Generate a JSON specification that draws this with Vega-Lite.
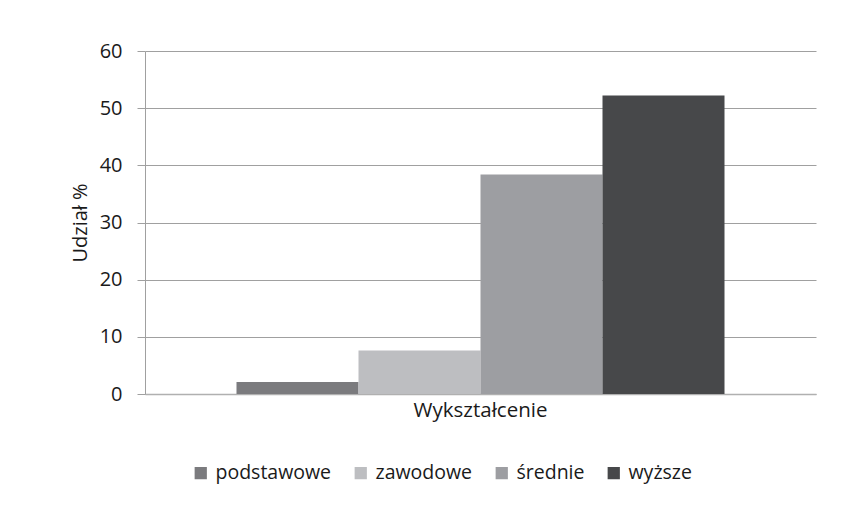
{
  "$schema": "https://vega.github.io/schema/vega-lite/v6.json",
  "width": 671,
  "height": 343,
  "autosize": {"type": "none"},
  "padding": {"left": 145, "top": 51, "right": 52, "bottom": 119},
  "background": "white",
  "config": {
    "font": "Open Sans",
    "view": {"stroke": null},
    "axis": {"labelFont": "Open Sans", "titleFont": "Open Sans", "labelColor": "#1a1a1a", "titleColor": "#1a1a1a", "titleFontWeight": "normal"},
    "legend": {"labelFont": "Open Sans"}
  },
  "data": {
    "values": [
      {"grupa": "Wykształcenie", "poziom": "podstawowe", "udzial": 2.1},
      {"grupa": "Wykształcenie", "poziom": "zawodowe", "udzial": 7.6},
      {"grupa": "Wykształcenie", "poziom": "średnie", "udzial": 38.4},
      {"grupa": "Wykształcenie", "poziom": "wyższe", "udzial": 52.2}
    ]
  },
  "mark": {"type": "bar"},
  "encoding": {
    "x": {
      "field": "grupa",
      "type": "nominal",
      "scale": {"paddingInner": 0, "paddingOuter": 0.1875},
      "axis": {"title": null, "labelAngle": 0, "labelFontSize": 20.5, "labelPadding": 6, "ticks": false, "domainColor": "#b0b0b0", "domainWidth": 1.5}
    },
    "xOffset": {
      "field": "poziom",
      "type": "nominal",
      "sort": ["podstawowe", "zawodowe", "średnie", "wyższe"],
      "scale": {"paddingInner": 0, "paddingOuter": 0}
    },
    "y": {
      "field": "udzial",
      "type": "quantitative",
      "scale": {"domain": [0, 60], "nice": false},
      "axis": {
        "title": "Udział %",
        "titleFontSize": 20,
        "titlePadding": 9,
        "values": [0, 10, 20, 30, 40, 50, 60],
        "labelFontSize": 20,
        "labelPadding": 15,
        "tickSize": 8,
        "tickColor": "#a0a0a0",
        "domainColor": "#a0a0a0",
        "gridColor": "#a0a0a0",
        "gridWidth": 1
      }
    },
    "color": {
      "field": "poziom",
      "type": "nominal",
      "sort": ["podstawowe", "zawodowe", "średnie", "wyższe"],
      "scale": {
        "domain": ["podstawowe", "zawodowe", "średnie", "wyższe"],
        "range": ["#7b7b7e", "#bdbec1", "#9d9ea2", "#47484a"]
      },
      "legend": {
        "title": null,
        "orient": "none",
        "legendX": 46,
        "legendY": 412,
        "direction": "horizontal",
        "symbolType": "square",
        "symbolSize": 150,
        "symbolStrokeWidth": 0,
        "symbolOpacity": 1,
        "labelFontSize": 19.5,
        "labelColor": "#1a1a1a",
        "labelOffset": 5,
        "columnPadding": 19
      }
    }
  }
}
